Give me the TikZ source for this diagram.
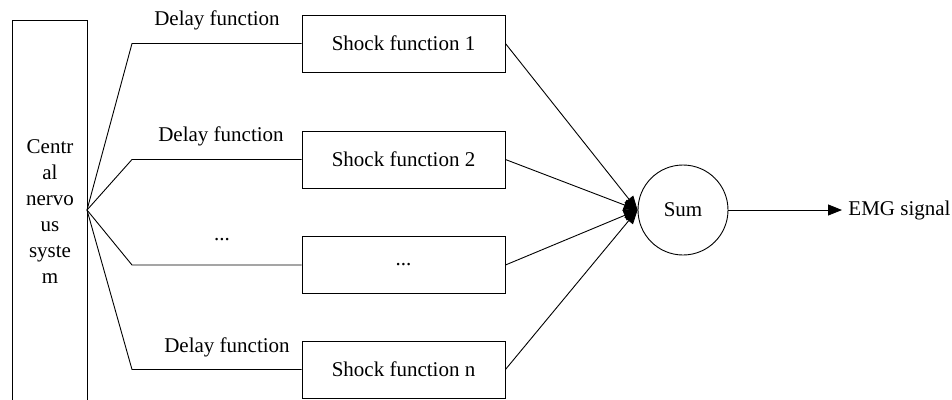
\documentclass[tikz,border=0pt]{standalone}
\usepackage{fontspec}
\setmainfont{Liberation Serif}
\usetikzlibrary{arrows.meta}
\begin{document}
\begin{tikzpicture}[x=1pt,y=-1pt,
  line width=0.9pt,
  every node/.style={font=\fontsize{21}{26}\selectfont, inner sep=0pt},
  fbox/.style={draw, minimum width=203pt, minimum height=57pt},
  lbl/.style={anchor=center},
  arr/.style={-{Triangle[length=14pt,width=11pt]}}]
\useasboundingbox (0,0) rectangle (952,399);

% central nervous system column (bottom edge runs off the page)
\node[draw, minimum width=75pt, minimum height=400pt, anchor=north] (cns) at (49.5,20) {};
\node[align=center] (cnstext) at (50,212) {Centr\\al\\nervo\\us\\syste\\m};
\coordinate (fan) at (87,210);

% shock function blocks
\node[fbox] (s1) at (403.5,43.5) {Shock function 1};
\node[fbox] (s2) at (403.5,159.5) {Shock function 2};
\node[fbox] (s3) at (403.5,265) {...};
\node[fbox] (s4) at (403.5,369.5) {Shock function n};

% delay branches
\coordinate (k1) at (132,43.5);
\coordinate (k2) at (132,159.5);
\coordinate (k3) at (132,265);
\coordinate (k4) at (132,369.5);
\draw (fan) -- (k1) -- (s1.west);
\draw (fan) -- (k2) -- (s2.west);
\draw (fan) -- (k3) -- (s3.west);
\draw (fan) -- (k4) -- (s4.west);

\node[lbl] (d1) at (217,20) {Delay function};
\node[lbl] (d2) at (221,136) {Delay function};
\node[lbl] (d3) at (222,240) {...};
\node[lbl] (d4) at (227,347) {Delay function};

% summation and output
\node[draw, circle, minimum size=90pt] (sum) at (683,210) {Sum};
\foreach \s in {s1,s2,s3,s4}
  \draw[arr] (\s.east) -- (sum.west);

\node[anchor=west] (emg) at (848,210) {EMG signal};
\draw[arr, shorten >=6pt] (sum.east) -- (emg.west);
\end{tikzpicture}
\end{document}
